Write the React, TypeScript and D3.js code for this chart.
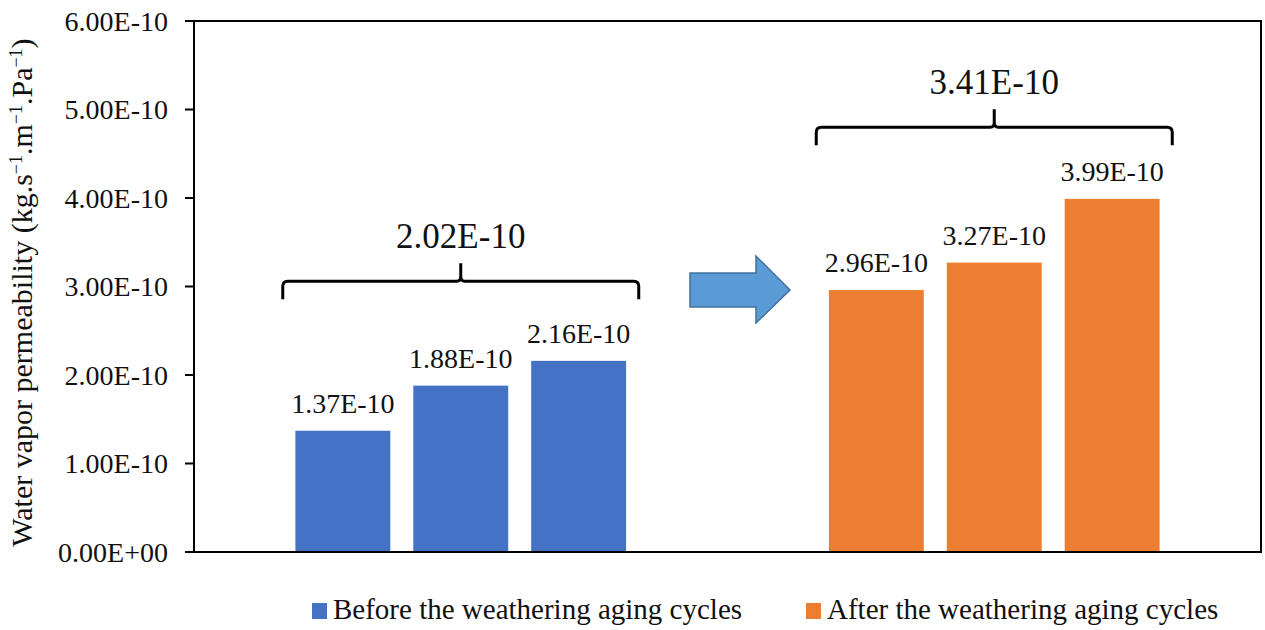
import React from "react";
import * as d3 from "d3";

const groups = ["Before the weathering aging cycles", "After the weathering aging cycles"];
const beforeValues = [1.37e-10, 1.88e-10, 2.16e-10];
const afterValues = [2.96e-10, 3.27e-10, 3.99e-10];
const beforeLabels = ["1.37E-10", "1.88E-10", "2.16E-10"];
const afterLabels = ["2.96E-10", "3.27E-10", "3.99E-10"];
const groupMeanLabels = ["2.02E-10", "3.41E-10"];
const braceLevels = [3.06e-10, 4.8e-10];
const yTicks = [0, 1e-10, 2e-10, 3e-10, 4e-10, 5e-10, 6e-10];
const yTickLabels = ["0.00E+00", "1.00E-10", "2.00E-10", "3.00E-10", "4.00E-10", "5.00E-10", "6.00E-10"];
const colors = ["#4472C4", "#ED7D31"];

const W = 1265;
const H = 630;
const FONT = "Liberation Serif";

export default function App() {
  const left = 194, right = 1261, top = 21, bottom = 552;
  const y = d3.scaleLinear().domain([0, 6e-10]).range([bottom, top]);
  const x = d3.scaleBand<string>().domain(groups).range([left, right]).padding(0);
  const inner = d3.scaleBand<number>().domain([0, 1, 2]).range([0, x.bandwidth()]).paddingInner(0.195).paddingOuter(0.86);
  const series = [beforeValues, afterValues];
  const labels = [beforeLabels, afterLabels];

  const bracePath = (cx: number, half: number, yl: number) => {
    const x0 = cx - half, x1 = cx + half;
    const r = 5;
    return `M${x0},${yl + 18} L${x0},${yl + r} Q${x0},${yl} ${x0 + r},${yl} L${cx - 4},${yl} Q${cx},${yl} ${cx},${yl - 5} L${cx},${yl - 18} M${cx},${yl - 5} Q${cx},${yl} ${cx + 4},${yl} L${x1 - r},${yl} Q${x1},${yl} ${x1},${yl + r} L${x1},${yl + 18}`;
  };

  const ax0 = 690, ax1 = 790, acy = y(2.96e-10);
  const arrowPts = [
    [ax0, acy - 17], [ax0 + 66, acy - 17], [ax0 + 66, acy - 34], [ax1, acy],
    [ax0 + 66, acy + 33], [ax0 + 66, acy + 17], [ax0, acy + 17],
  ].map((p) => p.join(",")).join(" ");

  const ts = { fontFamily: FONT };

  return (
    <svg width={W} height={H} style={{ position: "absolute", left: 0, top: 0, fontFamily: FONT }}>
      <rect x={0} y={0} width={W} height={H} fill="#fff" />
      {series.map((vals, gi) => {
        const g = groups[gi];
        const gx = x(g)!;
        return (
          <g key={g}>
            {vals.map((v, i) => (
              <g key={i}>
                <rect x={gx + inner(i)!} y={y(v)} width={inner.bandwidth()} height={bottom - y(v)} fill={colors[gi]} />
                <text style={ts} x={gx + inner(i)! + inner.bandwidth() / 2} y={y(v) - 18} textAnchor="middle" fontSize={28} fill="#111">
                  {labels[gi][i]}
                </text>
              </g>
            ))}
            <path d={bracePath(gx + x.bandwidth() / 2, 178, y(braceLevels[gi]))} fill="none" stroke="#000" strokeWidth={3} />
            <text style={ts} x={gx + x.bandwidth() / 2} y={y(braceLevels[gi]) - 33} textAnchor="middle" fontSize={35} fill="#111">
              {groupMeanLabels[gi]}
            </text>
          </g>
        );
      })}
      <polygon points={arrowPts} fill="#5B9BD5" stroke="#41719C" strokeWidth={1.5} />
      <rect x={left} y={top} width={right - left} height={bottom - top} fill="none" stroke="#000" strokeWidth={2} />
      {yTicks.map((t, i) => (
        <g key={t}>
          <line x1={left - 9} x2={left} y1={y(t)} y2={y(t)} stroke="#000" strokeWidth={2} />
          <text style={ts} x={left - 26} y={y(t)} dy="0.35em" textAnchor="end" fontSize={28} fill="#111">
            {yTickLabels[i]}
          </text>
        </g>
      ))}
      <text style={ts} transform={`translate(32,${(top + bottom) / 2 + 6}) rotate(-90)`} textAnchor="middle" fontSize={30} fill="#111">
        Water vapor permeability (kg.s
        <tspan baselineShift="super" fontSize={18}>−1</tspan>
        .m
        <tspan baselineShift="super" fontSize={18}>−1</tspan>
        .Pa
        <tspan baselineShift="super" fontSize={18}>−1</tspan>)
      </text>
      {groups.map((g, gi) => {
        const lx = gi === 0 ? 312 : 806;
        return (
          <g key={g}>
            <rect x={lx} y={603} width={15} height={16} fill={colors[gi]} />
            <text style={ts} x={lx + 21} y={619} fontSize={29} fill="#111">{g}</text>
          </g>
        );
      })}
    </svg>
  );
}
